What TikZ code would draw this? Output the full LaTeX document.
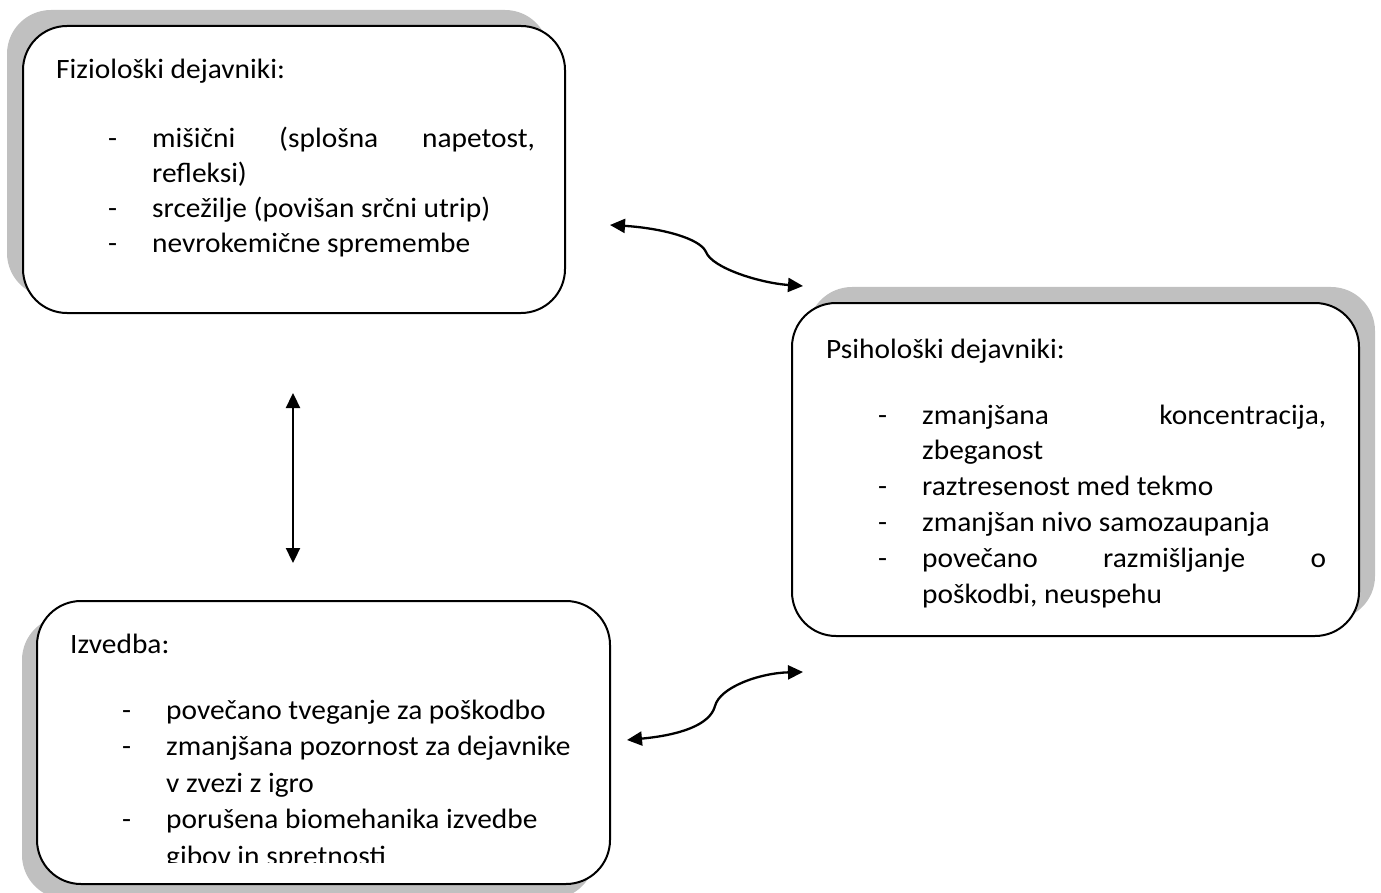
\documentclass[tikz,border=0pt]{standalone}
\usepackage{fontspec}
\setmainfont{Carlito}[FakeStretch=1.05]
\usetikzlibrary{arrows.meta,shadows}
\definecolor{shadowgray}{RGB}{192,192,192}
\newcommand\Ditem[1]{\hbox{\hskip 52pt\rlap{-}\hskip 44pt #1}}
\newcommand\Cline[1]{\hbox{\hskip 96pt #1}}
\tikzset{
  box/.style={draw=black, line width=2pt, fill=white, rounded corners=44pt, inner sep=0pt},
  txt/.style={anchor=base west, inner sep=0pt, font=\fontsize{28}{35}\selectfont},
  conn/.style={line width=2.3pt, {Triangle[length=15pt,width=14pt]}-{Triangle[length=15pt,width=14pt]}}
}
\begin{document}
\begin{tikzpicture}[x=1pt,y=1pt]
\useasboundingbox (0,0) rectangle (1381,-893);
% boxes with shadows
\node[box, minimum width=542pt, minimum height=287pt,
  drop shadow={shadow xshift=-16pt, shadow yshift=16pt, fill=shadowgray, opacity=1}] (fiz) at (294,-169.5) {};
\node[box, minimum width=567pt, minimum height=333pt,
  drop shadow={shadow xshift=16pt, shadow yshift=16pt, fill=shadowgray, opacity=1}] (psi) at (1075.5,-469.5) {};
\node[box, minimum width=573pt, minimum height=283pt,
  drop shadow={shadow xshift=-15pt, shadow yshift=-15pt, fill=shadowgray, opacity=1}] (izv) at (323.5,-742.5) {};
% texts
\node[txt] (fiztxt) at (56,-79) {\vtop{\baselineskip=35pt\lineskiplimit=-50pt\lineskip=0pt
  \hbox{Fiziološki dejavniki:}
  \vskip 34pt
  \Ditem{\hbox to 383pt{mišični\hfill (splošna\hfill napetost,}}
  \Cline{refleksi)}
  \Ditem{srcežilje (povišan srčni utrip)}
  \Ditem{nevrokemične spremembe}}};
\node[txt] (psitxt) at (826,-358) {\vtop{\baselineskip=35.8pt\lineskiplimit=-50pt\lineskip=0pt
  \hbox{Psihološki dejavniki:}
  \vskip 30.2pt
  \Ditem{\hbox to 404pt{zmanjšana\hfill koncentracija,}}
  \Cline{zbeganost}
  \Ditem{raztresenost med tekmo}
  \Ditem{zmanjšan nivo samozaupanja}
  \Ditem{\hbox to 404pt{povečano\hfill razmišljanje\hfill o}}
  \Cline{poškodbi, neuspehu}}};
\begin{scope}
\clip (0,-590) rectangle (700,-862);
\node[txt] (izvtxt) at (70,-653) {\vtop{\baselineskip=36.5pt\lineskiplimit=-50pt\lineskip=0pt
  \hbox{Izvedba:}
  \vskip 29.5pt
  \Ditem{povečano tveganje za poškodbo}
  \Ditem{zmanjšana pozornost za dejavnike}
  \Cline{v zvezi z igro}
  \Ditem{porušena biomehanika izvedbe}
  \Cline{gibov in spretnosti}}};
\end{scope}
% connectors
\coordinate (a1) at (610,-225);
\coordinate (a2) at (803,-286);
\draw[conn] (a1) .. controls (660,-228) and (700,-238) .. (706,-252) .. controls (712,-268) and (760,-283) .. (a2);
\coordinate (v1) at (293,-393);
\coordinate (v2) at (293,-563);
\draw[conn] (v1) -- (v2);
\coordinate (b1) at (627,-740);
\coordinate (b2) at (803,-672);
\draw[conn] (b1) .. controls (680,-735) and (710,-725) .. (715,-706) .. controls (720,-687) and (760,-673) .. (b2);
\end{tikzpicture}
\end{document}
